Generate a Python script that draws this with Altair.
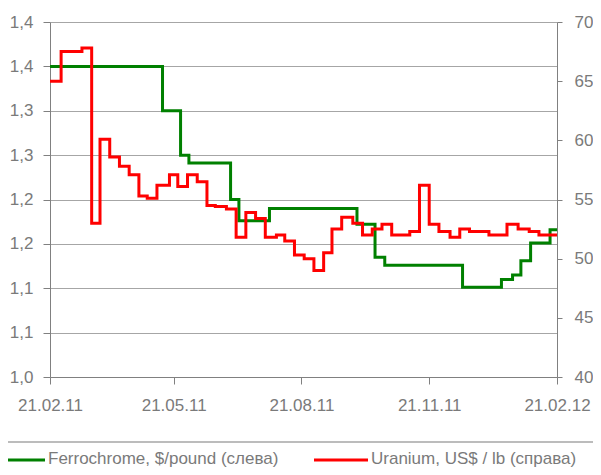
import altair as alt
import pandas as pd

# ---- data ----
fc_dates = ["2011-02-21", "2011-05-13", "2011-05-26", "2011-06-01", "2011-07-01", "2011-07-07",
            "2011-07-29", "2011-09-30", "2011-10-13", "2011-10-20", "2011-12-15", "2012-01-12",
            "2012-01-20", "2012-01-26", "2012-02-02", "2012-02-16", "2012-02-21"]
fc_values = [1.35, 1.30, 1.25, 1.241, 1.20, 1.176, 1.19, 1.172, 1.135, 1.126, 1.101, 1.110,
             1.115, 1.131, 1.151, 1.166, 1.166]

u_dates = ["2011-02-21", "2011-03-01", "2011-03-16", "2011-03-23", "2011-03-29", "2011-04-05",
           "2011-04-12", "2011-04-19", "2011-04-26", "2011-05-02", "2011-05-09", "2011-05-18",
           "2011-05-24", "2011-05-31", "2011-06-07", "2011-06-14", "2011-06-20", "2011-06-28",
           "2011-07-05", "2011-07-12", "2011-07-19", "2011-07-26", "2011-08-03", "2011-08-09",
           "2011-08-16", "2011-08-23", "2011-08-30", "2011-09-06", "2011-09-12", "2011-09-19",
           "2011-09-27", "2011-10-04", "2011-10-11", "2011-10-18", "2011-10-25", "2011-11-07",
           "2011-11-14", "2011-11-21", "2011-11-28", "2011-12-06", "2011-12-13", "2011-12-20",
           "2012-01-03", "2012-01-16", "2012-01-24", "2012-02-01", "2012-02-08", "2012-02-21"]
u_values = [65.0, 67.5, 67.8, 53.0, 60.1, 58.6,
            57.8, 57.1, 55.3, 55.1, 56.2, 57.1,
            56.1, 57.1, 56.5, 54.5, 54.4, 54.2,
            51.8, 53.9, 53.4, 51.8, 52.0, 51.5,
            50.3, 50.0, 49.0, 50.5, 52.5, 53.5,
            53.0, 52.0, 52.5, 52.9, 52.0, 52.3,
            56.2, 52.9, 52.3, 51.8, 52.5, 52.3,
            52.0, 52.9, 52.5, 52.3, 52.0, 52.0]

x_tick_dates = ["2011-02-21", "2011-05-21", "2011-08-21", "2011-11-21", "2012-02-21"]
left_ticks = [1.0, 1.05, 1.1, 1.15, 1.2, 1.25, 1.3, 1.35, 1.4]
right_ticks = [40, 45, 50, 55, 60, 65, 70]
series_names = ["Ferrochrome, $/pound (слева)", "Uranium, US$ / lb (справа)"]
series_colors = ["#008000", "#ff0000"]


def ms(d):
    return int(pd.Timestamp(d, tz="UTC").timestamp() * 1000)


df_fc = pd.DataFrame({"t": [ms(d) for d in fc_dates], "v": fc_values})
df_u = pd.DataFrame({"t": [ms(d) for d in u_dates], "v": u_values})

FONT = "Liberation Sans"
GRAY = "#808080"
LBL = "#7a7a7a"

x_enc = alt.X(
    "t:T",
    scale=alt.Scale(type="utc", domain=[ms(x_tick_dates[0]), ms(x_tick_dates[-1])]),
    axis=alt.Axis(
        values=[ms(d) for d in x_tick_dates],
        labelExpr="utcFormat(datum.value, '%d.%m.%y')",
        title=None, grid=False, tickSize=7, labelPadding=13,
        labelFlush=False, labelOverlap=False,
        domainColor=GRAY, tickColor=GRAY, labelColor=LBL,
        labelFont=FONT, labelFontSize=17,
    ),
)

green = alt.Chart(df_fc).mark_line(
    interpolate="step-after", color=series_colors[0], strokeWidth=3
).encode(
    x=x_enc,
    y=alt.Y(
        "v:Q",
        scale=alt.Scale(domain=[1.0, 1.4], nice=False, zero=False),
        axis=alt.Axis(
            orient="left", values=left_ticks,
            labelExpr="replace(format(datum.value + 0.0001, '.1f'), '.', ',')",
            title=None, grid=True, gridColor="#a6a6a6", gridWidth=1,
            tickSize=7, labelPadding=10,
            domainColor=GRAY, tickColor=GRAY, labelColor=LBL,
            labelFont=FONT, labelFontSize=17,
        ),
    ),
)

red = alt.Chart(df_u).mark_line(
    interpolate="step-after", color=series_colors[1], strokeWidth=3
).encode(
    x=x_enc,
    y=alt.Y(
        "v:Q",
        scale=alt.Scale(domain=[40, 70], nice=False, zero=False),
        axis=alt.Axis(
            orient="right", values=right_ticks, format="d",
            title=None, grid=False, tickSize=5, labelPadding=12,
            domainColor=GRAY, tickColor=GRAY, labelColor=LBL,
            labelFont=FONT, labelFontSize=17,
        ),
    ),
)

lines = alt.layer(green, red).resolve_scale(y="independent")

# ---- legend drawn below the plot ----
sep = alt.Chart(pd.DataFrame({"a": [0]})).mark_rule(color="#a6a6a6", strokeWidth=1.5).encode(
    x=alt.value(-50), x2=alt.value(551), y=alt.value(420)
)
leg_g = alt.Chart(pd.DataFrame({"a": [0]})).mark_rule(color=series_colors[0], strokeWidth=3).encode(
    x=alt.value(-50), x2=alt.value(-5), y=alt.value(438)
)
leg_r = alt.Chart(pd.DataFrame({"a": [0]})).mark_rule(color=series_colors[1], strokeWidth=3).encode(
    x=alt.value(264), x2=alt.value(318), y=alt.value(438)
)
txt_g = alt.Chart(pd.DataFrame({"name": [series_names[0]]})).mark_text(
    align="left", baseline="middle", font=FONT, fontSize=17, color=LBL
).encode(text="name:N", x=alt.value(-2), y=alt.value(437))
txt_r = alt.Chart(pd.DataFrame({"name": [series_names[1]]})).mark_text(
    align="left", baseline="middle", font=FONT, fontSize=17, color=LBL
).encode(text="name:N", x=alt.value(321), y=alt.value(437))

chart = alt.layer(lines, sep, leg_g, leg_r, txt_g, txt_r).properties(
    width=507, height=355,
    autosize=alt.AutoSizeParams(type="none"),
    padding={"left": 42, "top": 14, "right": 36, "bottom": 90},
).configure_view(stroke=None)

chart.save("out.html", embed_options={"renderer": "svg", "actions": False})
